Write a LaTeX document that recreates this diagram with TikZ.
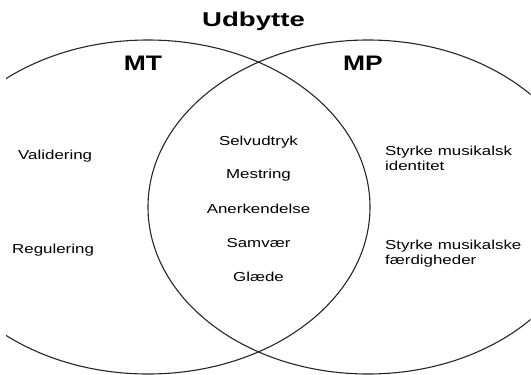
\documentclass[tikz,border=0pt]{standalone}
\usepackage{fontspec}
\setmainfont{Liberation Sans}
\usepackage{graphicx}
\begin{document}
\begin{tikzpicture}[x=1pt,y=-1pt,
  set/.style={draw=black!85,line width=1.1pt},
  lbl/.style={inner sep=0pt,anchor=base,font=\fontsize{13}{15}\selectfont},
  lblw/.style={inner sep=0pt,anchor=base west,font=\fontsize{13}{15}\selectfont},
  head/.style={inner sep=0pt,anchor=base,font=\bfseries\fontsize{21}{24}\selectfont}]
\useasboundingbox (0,0) rectangle (531,375);
\begin{scope}
\clip (6,0) rectangle (530.5,375);
\draw[set] (148,207) ellipse [x radius=222pt, y radius=167pt];
\draw[set] (368,207) ellipse [x radius=220pt, y radius=167pt];
\end{scope}
\node[head,font=\bfseries\fontsize{20}{24}\selectfont] (title) at (253.5,26.5) {\scalebox{1.38}[1]{Udbytte}};
\node[head] (mt) at (143,70) {\scalebox{1.26}[1]{MT}};
\node[head] (mp) at (363,70) {\scalebox{1.26}[1]{MP}};
\node[lblw] (val) at (18,159.5) {\scalebox{1.3}[1]{Validering}};
\node[lblw] (reg) at (12,253) {\scalebox{1.3}[1]{Regulering}};
\node[lbl] (c1) at (258.5,145.5) {\scalebox{1.3}[1]{Selvudtryk}};
\node[lbl] (c2) at (258.5,178.5) {\scalebox{1.3}[1]{Mestring}};
\node[lbl] (c3) at (258.5,213) {\scalebox{1.3}[1]{Anerkendelse}};
\node[lbl] (c4) at (258.5,247) {\scalebox{1.3}[1]{Samvær}};
\node[lbl] (c5) at (258.5,281.5) {\scalebox{1.3}[1]{Glæde}};
\node[lblw] (r1) at (385,170.5) {\scalebox{1.3}[1]{\begin{tabular}[b]{@{}l@{}}Styrke musikalsk\\identitet\end{tabular}}};
\node[lblw] (r2) at (385,264.3) {\scalebox{1.3}[1]{\begin{tabular}[b]{@{}l@{}}Styrke musikalske\\færdigheder\end{tabular}}};
\end{tikzpicture}
\end{document}
